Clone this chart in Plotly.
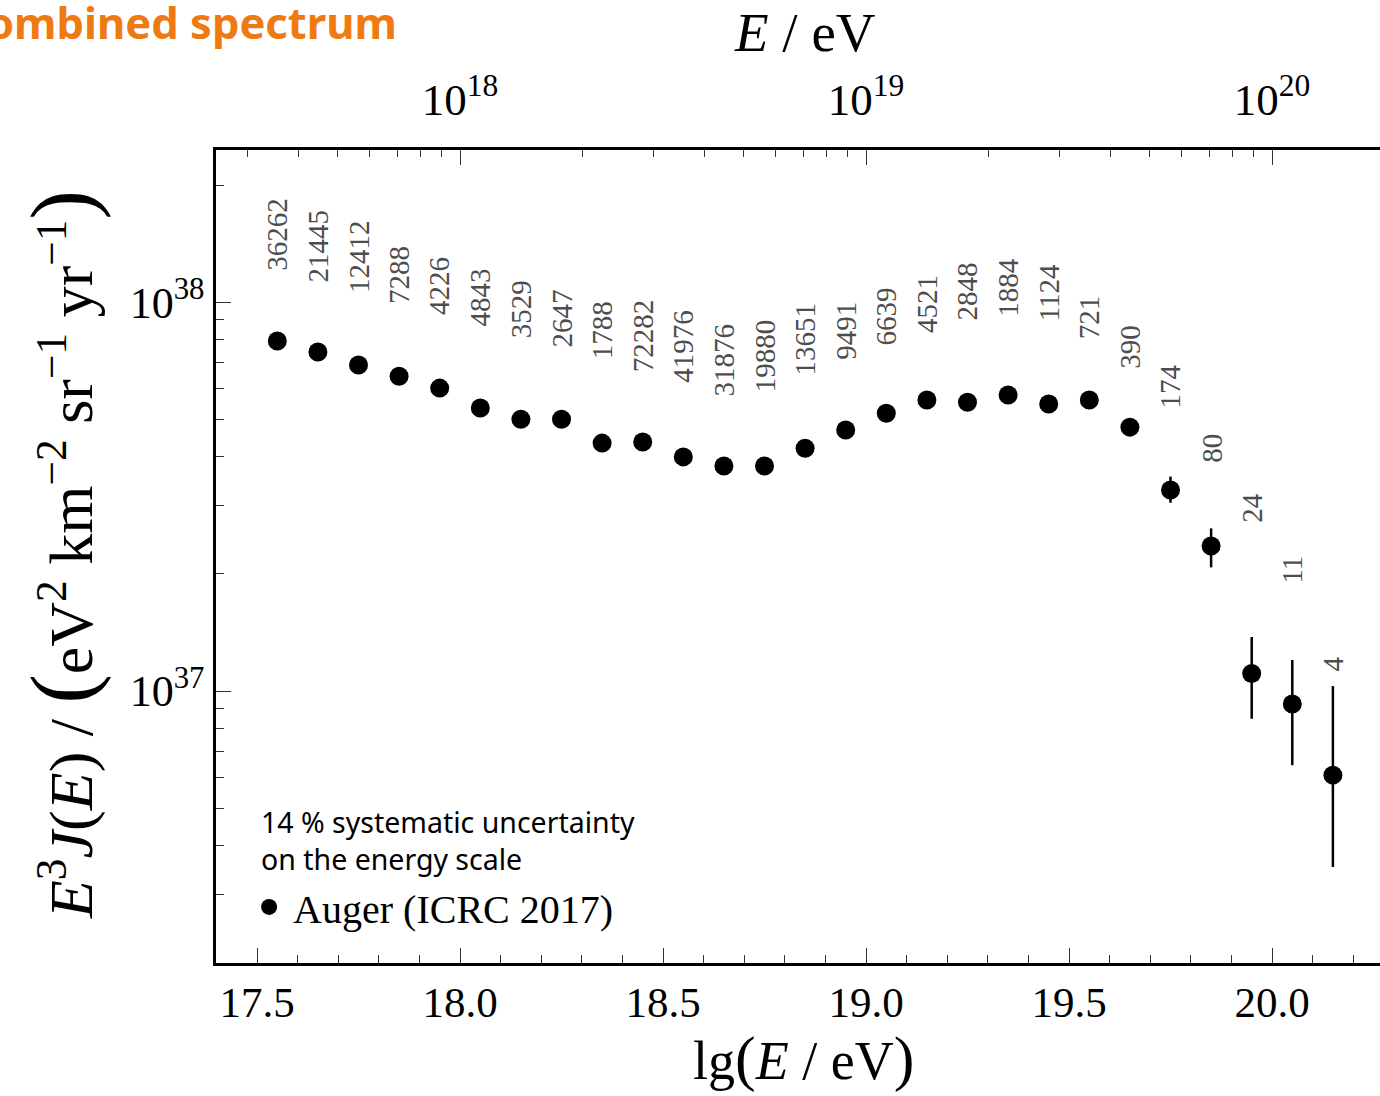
import numpy as np
import plotly.graph_objects as go

# ---------------- data ----------------
lgE = [17.55, 17.65, 17.75, 17.85, 17.95, 18.05, 18.15, 18.25, 18.35, 18.45,
       18.55, 18.65, 18.75, 18.85, 18.95, 19.05, 19.15, 19.25, 19.35, 19.45,
       19.55, 19.65, 19.75, 19.85, 19.95, 20.05, 20.15]
flux = [7.94e37, 7.44e37, 6.89e37, 6.45e37, 6.01e37, 5.34e37, 5.00e37, 5.00e37, 4.34e37, 4.37e37,
        4.00e37, 3.79e37, 3.79e37, 4.21e37, 4.69e37, 5.18e37, 5.60e37, 5.53e37, 5.77e37, 5.47e37,
        5.60e37, 4.77e37, 3.29e37, 2.36e37, 1.11e37, 9.26e36, 6.08e36]
# upper / lower ends of the error bars (None = hidden by marker)
err_hi = [None] * 22 + [3.56e37, 2.62e37, 1.377e37, 1.202e37, 1.03e37]
err_lo = [None] * 22 + [3.05e37, 2.08e37, 8.49e36, 6.45e36, 3.53e36]
counts = ["36262", "21445", "12412", "7288", "4226", "4843", "3529", "2647", "1788", "72282",
          "41976", "31876", "19880", "13651", "9491", "6639", "4521", "2848", "1884", "1124",
          "721", "390", "174", "80", "24", "11", "4"]
# vertical placement (lg of y-value) of the bottom of each count label
label_lg = [38.075, 38.046, 38.018, 37.990, 37.961, 37.933, 37.902, 37.877, 37.848, 37.815,
            37.787, 37.753, 37.763, 37.805, 37.846, 37.884, 37.915, 37.946, 37.956, 37.946,
            37.900, 37.823, 37.720, 37.581, 37.427, 37.272, 37.046]

x_ticks = [17.5, 18.0, 18.5, 19.0, 19.5, 20.0]
x_ticktext = ["17.5", "18.0", "18.5", "19.0", "19.5", "20.0"]
top_ticks = [18, 19, 20]
top_ticktext = ["10<sup>18</sup>", "10<sup>19</sup>", "10<sup>20</sup>"]
y_ticks = [1e37, 1e38]
y_ticktext = ["10<sup>37</sup>", "10<sup>38</sup>"]

# ---------------- derived ----------------
plus = [(h - f) if h is not None else 0 for h, f in zip(err_hi, flux)]
minus = [(f - l) if l is not None else 0 for l, f in zip(err_lo, flux)]

X_RANGE = [17.399, 20.266]
Y_RANGE = [36.301, 38.391]

top_minor = [float(np.log10(k * 10.0 ** n)) for n in (17, 18, 19, 20) for k in range(2, 10)]
top_minor = [v for v in top_minor if X_RANGE[0] < v < X_RANGE[1]]
y_minor = [k * 10.0 ** n for n in (36, 37, 38) for k in range(2, 10)]
x_minor = [round(17.4 + 0.1 * i, 1) for i in range(29)]

SERIF = "Liberation Serif, Times New Roman, serif"
SANS = "Noto Sans, Open Sans, sans-serif"

fig = go.Figure()
fig.add_trace(go.Scatter(
    x=lgE, y=flux, mode="markers", name="Auger (ICRC 2017)",
    marker=dict(color="black", size=19, symbol="circle"),
    error_y=dict(type="data", symmetric=False, array=plus, arrayminus=minus,
                 color="black", thickness=2.5, width=0),
))
# invisible trace binding the top axis
fig.add_trace(go.Scatter(x=[18.5], y=[1e37], xaxis="x2", mode="markers",
                         marker=dict(opacity=0), showlegend=False, hoverinfo="skip"))

for x, c, ly in zip(lgE, counts, label_lg):
    fig.add_annotation(x=x, y=ly, xref="x", yref="y", text=c, showarrow=False,
                       textangle=-90, xanchor="center", yanchor="bottom",
                       font=dict(family=SERIF, size=29, color="#4d4d4d"))

axis_common = dict(showgrid=False, zeroline=False, showline=True, linecolor="black",
                   linewidth=2.5, ticks="inside", tickcolor="#333", tickwidth=1.3)

fig.update_layout(
    width=1380, height=1096,
    margin=dict(l=216, r=0, t=150, b=133),
    paper_bgcolor="white", plot_bgcolor="white",
    showlegend=True,
    legend=dict(x=0.025, y=0.069, xanchor="left", yanchor="middle",
                font=dict(family=SERIF, size=40, color="black"),
                bgcolor="rgba(0,0,0,0)", itemsizing="trace", itemwidth=38),
    xaxis=dict(range=X_RANGE, tickvals=x_ticks, ticktext=x_ticktext, ticklen=15,
               tickfont=dict(family=SERIF, size=43, color="black"),
               ticklabelstandoff=0,
               minor=dict(tickvals=x_minor, ticklen=8, ticks="inside", tickcolor="#333", tickwidth=1.3),
               **axis_common),
    xaxis2=dict(range=X_RANGE, overlaying="x", side="top", anchor="y",
                tickvals=top_ticks, ticktext=top_ticktext, ticklen=15,
                tickfont=dict(family=SERIF, size=45, color="black"),
                ticklabelstandoff=14,
                minor=dict(tickvals=top_minor, ticklen=7, ticks="inside", tickcolor="#333", tickwidth=1.3),
                **axis_common),
    yaxis=dict(type="log", range=Y_RANGE, tickvals=y_ticks, ticktext=y_ticktext, ticklen=15,
               tickfont=dict(family=SERIF, size=44, color="black"),
               minor=dict(tickvals=y_minor, ticklen=8, ticks="inside", tickcolor="#333", tickwidth=1.3),
               **axis_common),
)

# axis titles
fig.add_annotation(xref="paper", yref="paper", x=(803 - 216) / 1164, y=(963 - 1058) / 813,
                   text="lg<span style='font-size:62px'>(</span><i>E</i> / eV<span style='font-size:62px'>)</span>",
                   showarrow=False, xanchor="center", yanchor="middle",
                   font=dict(family=SERIF, size=54, color="black"))
fig.add_annotation(xref="paper", yref="paper", x=(805 - 216) / 1164, y=(963 - 33) / 813,
                   text="<i>E</i> / eV", showarrow=False, xanchor="center", yanchor="middle",
                   font=dict(family=SERIF, size=55, color="black"))
fig.add_annotation(xref="paper", yref="paper", x=(62 - 216) / 1164, y=(963 - 555) / 813,
                   text="<i>E</i><sup>3</sup><i>J</i>(<i>E</i>) / <span style='font-size:88px'>(</span>eV<sup>2</sup> km<sup>−2</sup> sr<sup>−1</sup> yr<sup>−1</sup><span style='font-size:88px'>)</span>",
                   showarrow=False, textangle=-90, xanchor="center", yanchor="middle",
                   font=dict(family=SERIF, size=62, color="black"))

# note text
fig.add_annotation(xref="paper", yref="paper", x=(259 - 216) / 1164, y=(963 - 840) / 813,
                   text="14 % systematic uncertainty<br>on the energy scale",
                   showarrow=False, xanchor="left", yanchor="middle", align="left",
                   font=dict(family=SANS, size=28.5, color="black"))

# page heading (partly cut at the left edge)
fig.add_annotation(xref="paper", yref="paper", x=(399 - 216) / 1164, y=(963 + 10) / 813,
                   text="<b>Combined spectrum</b>", showarrow=False,
                   xanchor="right", yanchor="top",
                   font=dict(family=SANS, size=43.5, color="#f07a12"))

fig.write_html("out.html")
